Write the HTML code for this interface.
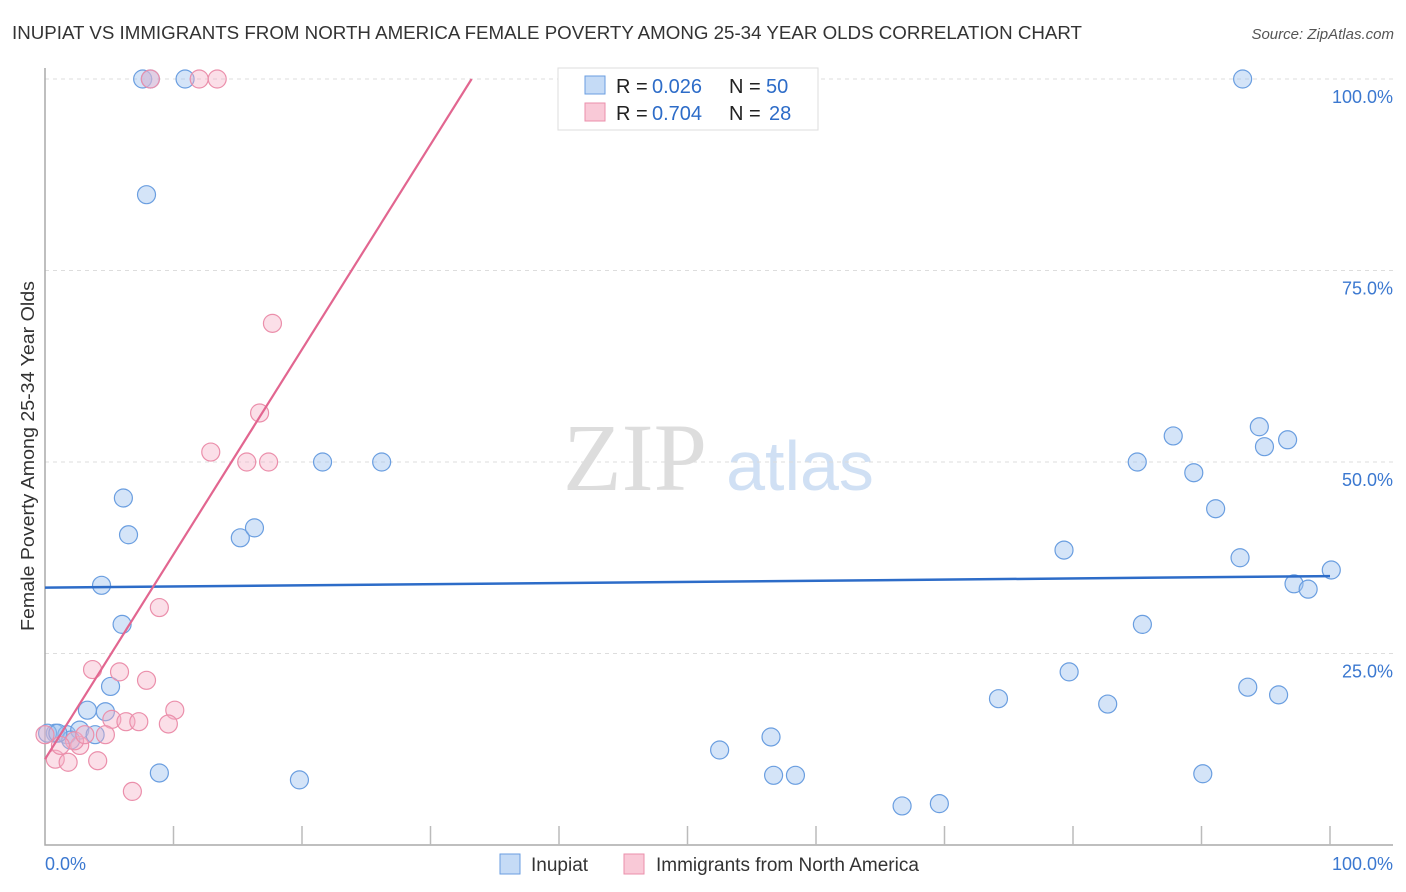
<!DOCTYPE html>
<html><head><meta charset="utf-8"><style>
body{margin:0;background:#fff;font-family:"Liberation Sans",sans-serif;}
</style></head><body>
<svg id="c" width="1406" height="892" style="display:block">
<text x="12" y="39" font-size="18" fill="#333" textLength="1070" lengthAdjust="spacingAndGlyphs">INUPIAT VS IMMIGRANTS FROM NORTH AMERICA FEMALE POVERTY AMONG 25-34 YEAR OLDS CORRELATION CHART</text>
<text x="1394" y="39" font-size="15" fill="#555" font-style="italic" text-anchor="end">Source: ZipAtlas.com</text>
<text x="635" y="490" font-size="96" fill="#ddd" font-family="Liberation Serif" text-anchor="middle">ZIP</text>
<text x="800" y="490" font-size="70" fill="#d0e0f4" text-anchor="middle">atlas</text>
<text transform="translate(34,456) rotate(-90)" font-size="18" fill="#333" text-anchor="middle" textLength="350" lengthAdjust="spacingAndGlyphs">Female Poverty Among 25-34 Year Olds</text>
<g id="grid"></g><g id="pts"></g><g id="lines"></g>
<g>
<rect x="558" y="68" width="260" height="62" fill="#fff" stroke="#ddd"/>
<rect x="585" y="76" width="20" height="18" fill="#c5dbf6" stroke="#6a9ee0"/>
<text x="616" y="93" font-size="20" fill="#222">R =</text>
<text x="652" y="93" font-size="20" fill="#2d6cc8">0.026</text>
<text x="729" y="93" font-size="20" fill="#222">N =</text>
<text x="766" y="93" font-size="20" fill="#2d6cc8">50</text>
<rect x="585" y="103" width="20" height="18" fill="#f9c9d7" stroke="#eb8fab"/>
<text x="616" y="120" font-size="20" fill="#222">R =</text>
<text x="652" y="120" font-size="20" fill="#2d6cc8">0.704</text>
<text x="729" y="120" font-size="20" fill="#222">N =</text>
<text x="769" y="120" font-size="20" fill="#2d6cc8">28</text>
</g>
<g>
<rect x="500" y="854" width="20" height="20" fill="#c5dbf6" stroke="#6a9ee0"/>
<text x="531" y="871" font-size="19" fill="#333">Inupiat</text>
<rect x="624" y="854" width="20" height="20" fill="#f9c9d7" stroke="#eb8fab"/>
<text x="656" y="871" font-size="19" fill="#333">Immigrants from North America</text>
</g>
<text x="45" y="870" font-size="18" fill="#3b78d0">0.0%</text>
<text x="1393" y="870" font-size="18" fill="#3b78d0" text-anchor="end">100.0%</text>
</svg>
<script>
const yTicks=[25,50,75,100];
const yTickLabels=["25.0%","50.0%","75.0%","100.0%"];
const blueX=[7.6,8.2,10.9,93.2,7.9,6.1,6.5,4.4,6.0,5.1,3.3,4.7,0.8,1.7,2.7,3.9,8.9,19.8,15.2,16.3,21.6,26.2,85,87.8,89.4,91.1,94.5,94.9,96.7,79.3,93.0,100.1,97.2,98.3,85.4,79.7,74.2,82.7,93.6,96,52.5,56.5,56.7,58.4,90.1,66.7,69.6,0.2,2.0,1.0];
const blueY=[100,100,100,100,84.9,45.3,40.5,33.9,28.8,20.7,17.6,17.4,14.6,14.4,15,14.4,9.4,8.5,40.1,41.4,50,50,50,53.4,48.6,43.9,54.6,52,52.9,38.5,37.5,35.9,34.1,33.4,28.8,22.6,19.1,18.4,20.6,19.6,12.4,14.1,9.1,9.1,9.3,5.1,5.4,14.6,13.7,14.6];
const pinkX=[8.2,12,13.4,41.6,17.7,16.7,12.9,15.7,17.4,8.9,3.7,5.8,7.9,10.1,5.2,6.3,7.3,9.6,4.7,2.7,2.3,0.8,1.8,4.1,6.8,0,1.2,3.1];
const pinkY=[100,100,100,100,68.1,56.4,51.3,50,50,31,22.9,22.6,21.5,17.6,16.4,16.1,16.1,15.8,14.4,13,13.6,11.2,10.8,11,7,14.4,13,14.4];
const blueFit=[33.6,35.1], pinkFit=[11.2,100,33.2];
const X=v=>45+v*12.85, Y=v=>845-v*7.66;
const ns='http://www.w3.org/2000/svg';
function mk(t,a,p){const e=document.createElementNS(ns,t);for(const k in a)e.setAttribute(k,a[k]);p.appendChild(e);return e;}
const g=document.getElementById('grid');
yTicks.forEach((t,i)=>{
 const l=mk('line',{x1:45,x2:1393,y1:Y(t),y2:Y(t),stroke:'#ddd','stroke-dasharray':'4,4'},g);
 
 
 const tx=mk('text',{x:1393,y:Y(t)+24,'font-size':18,fill:'#3b78d0','text-anchor':'end'},g);
 tx.textContent=yTickLabels[i];
 
 
});
const ax=mk('path',{d:'M45,68V845H1393',fill:'none',stroke:'#aaa','stroke-width':1.5},g);


for(let i=1;i<=10;i++){const tk=mk('line',{x1:45+i*128.5,x2:45+i*128.5,y1:826,y2:845,stroke:'#bbb','stroke-width':1.5},g);
 
 }
const p=document.getElementById('pts');
blueX.forEach((v,i)=>{const c=mk('circle',{cx:X(v),cy:Y(blueY[i]),r:9,fill:'rgba(160,195,240,0.45)',stroke:'#6a9ee0','stroke-width':1.2},p);
 
 });
pinkX.forEach((v,i)=>{const c=mk('circle',{cx:X(v),cy:Y(pinkY[i]),r:9,fill:'rgba(245,175,198,0.4)',stroke:'#eb8fab','stroke-width':1.2},p);
 
 });
const L=document.getElementById('lines');
const bl=mk('line',{x1:X(0),y1:Y(blueFit[0]),x2:X(100),y2:Y(blueFit[1]),stroke:'#2d6cc8','stroke-width':2.5},L);


const pl=mk('line',{x1:X(0),y1:Y(pinkFit[0]),x2:X(pinkFit[2]),y2:Y(pinkFit[1]),stroke:'#e26690','stroke-width':2.2},L);


</script>
</body></html>
